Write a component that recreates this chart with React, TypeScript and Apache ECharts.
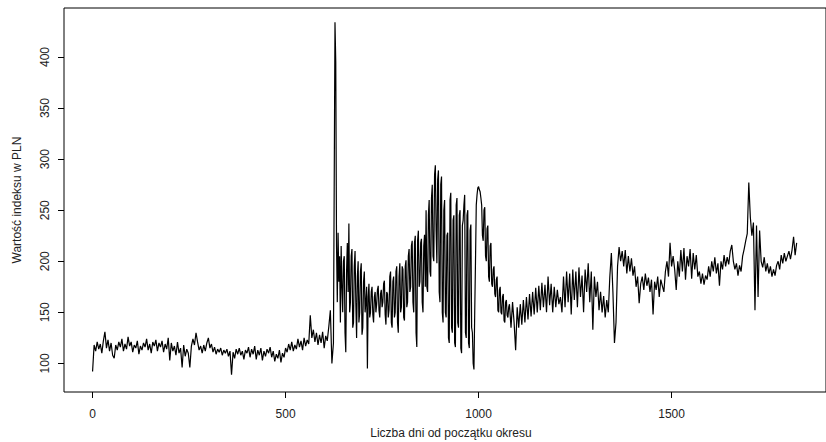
import React, { useEffect, useRef } from "react";
import * as echarts from "echarts";

const startA = 0;
const stepA = 4;
const valuesA = [
  92, 118, 112, 121, 114, 119, 110, 122, 131, 115,
  123, 112, 120, 108, 105, 118, 113, 121, 116, 124,
  112, 119, 114, 126, 117, 121, 111, 118, 115, 122,
  109, 117, 113, 120, 116, 124, 113, 119, 110, 121,
  117, 123, 112, 120, 116, 122, 111, 119, 114, 125,
  103, 120, 112, 117, 108, 121, 110, 115, 96, 118,
  107, 114, 110, 96, 117, 124, 118, 130, 121, 113,
  117, 110, 118, 112, 120, 125, 115, 119, 111, 116,
  109, 114, 111, 115, 108, 113, 110, 114, 107, 112,
  89, 111, 105, 114, 109, 115, 108, 112, 104, 113,
];

const startB = 400;
const stepB = 4;
const valuesB = [
  110, 116, 106, 114, 109, 117, 104, 113, 108, 115,
  103, 112, 107, 114, 110, 116, 106, 112, 102, 109,
  105, 113, 101, 110, 106, 115, 111, 119, 113, 121,
  112, 118, 114, 124, 116, 122, 113, 125, 117, 123,
  119, 147, 125, 133, 121, 130, 118, 128, 120, 131,
  115, 127, 122, 136, 152, 100, 120,
];

const startC = 628;
const stepC = 2;
const valuesC = [
  434, 395, 215, 160, 228, 180, 205, 140, 215, 175,
  150, 200, 205, 130, 111, 190, 218, 170, 237, 150,
  160, 205, 212, 135, 140, 195, 210, 160, 125, 185,
  200, 140, 150, 190, 198, 128, 135, 180, 190, 150,
  160, 175, 95, 165, 178, 145, 150, 170, 175, 148,
  140, 165, 170, 150, 158, 172, 176, 152, 145, 168,
  172, 155, 160, 178, 181, 148, 138, 170, 168, 145,
  152, 185, 190, 140, 135, 180, 185, 145, 150, 190,
  195, 140, 130, 185, 198, 150, 155, 195, 192, 145,
  142, 195, 201, 155, 160, 205, 212, 170, 175, 215,
  220, 160, 150, 218, 225, 130, 116, 220, 230, 175,
  180, 218, 222, 160, 150, 215, 226, 175,
];

const startD = 864;
const stepD = 2;
const valuesD = [
  250, 175, 170, 245, 260, 190, 185, 262, 275, 205,
  200, 285, 294, 230, 198, 280, 289, 170, 160, 275,
  283, 150, 140, 250, 260, 150, 145, 225, 228, 125,
  120, 260, 267, 135, 130, 240, 245, 120, 116, 255,
  262, 140, 135, 245, 250, 115, 110, 235, 240, 255,
  265, 130, 125, 245, 250, 120, 115, 230, 236, 135,
  130, 100, 94, 150, 200, 255, 265, 272, 273, 270,
  268, 262, 255, 225, 220, 250, 253, 205, 200, 232,
  235, 185, 180, 215, 218, 178, 175, 192, 195, 168,
  165, 182, 185, 152, 150, 172, 175, 150, 148, 165,
  168, 142, 140, 160, 162, 147, 145, 155, 158,
];

const startE = 1084;
const stepE = 4;
const valuesE = [
  135, 160, 140, 113, 155, 135, 158, 138, 162, 140,
  165, 143, 168, 146, 170, 148, 174, 150, 176, 152,
  179, 155, 177, 150, 185, 157, 178, 150, 175, 155,
  172, 158, 165, 150, 185, 155, 190, 160, 188, 148,
  192, 162, 190, 155, 194, 165, 186, 150, 192, 170,
  198, 160, 190,
];

const startF = 1296;
const stepF = 4;
const valuesF = [
  133, 185, 165, 180, 152, 170, 150, 166, 145, 162,
  150, 185, 208, 170, 120, 140, 195, 214, 200, 210,
  195, 211, 188, 205, 190, 203, 186, 195, 175, 185,
  159, 178, 185, 172, 188, 176, 184, 170, 182, 148,
  180, 172, 185, 165, 182, 176, 170, 190, 200, 185,
  218, 195,
];

const startG = 1504;
const stepG = 4;
const valuesG = [
  205, 192, 172, 200, 185, 211, 190, 213, 182, 205,
  195, 212, 183, 208, 192, 206, 185, 190, 178, 188,
  177, 186, 182, 195, 185, 200, 190, 204, 188, 198,
  176, 200, 192, 206, 195, 204, 197, 210, 216, 200,
  192, 198, 186, 196, 190, 205, 212, 220, 227, 277,
  243, 225, 238, 152, 235, 165, 230, 200, 194, 204,
  190, 198, 188, 195, 185, 192, 186, 196, 200, 192,
  206, 198, 208, 200, 205, 210, 202, 211, 224, 206,
  218,
];

const segments: [number, number, number[]][] = [
  [startA, stepA, valuesA],
  [startB, stepB, valuesB],
  [startC, stepC, valuesC],
  [startD, stepD, valuesD],
  [startE, stepE, valuesE],
  [startF, stepF, valuesF],
  [startG, stepG, valuesG],
];

const xTickValues = [0, 500, 1000, 1500];
const yTickValues = [100, 150, 200, 250, 300, 350, 400];

const xTitle = "Liczba dni od początku okresu";
const yTitle = "Wartość indeksu w PLN";

const FONT = "'Liberation Sans', Arial, sans-serif";

function buildData(): [number, number][] {
  const out: [number, number][] = [];
  segments.forEach(([start, step, vals]) => {
    vals.forEach((v, i) => out.push([start + i * step, v]));
  });
  return out;
}

export default function App() {
  const ref = useRef<HTMLDivElement>(null);
  useEffect(() => {
    if (!ref.current) return;
    const chart = echarts.init(ref.current, null, { renderer: "svg" });
    chart.setOption({
      animation: false,
      backgroundColor: "#ffffff",
      grid: {
        left: 64,
        top: 8,
        width: 774,
        height: 384,
        show: true,
        borderColor: "#000",
        borderWidth: 1,
        backgroundColor: "transparent",
      },
      xAxis: {
        type: "value",
        min: -74,
        max: 1900,
        axisLine: { show: false, onZero: false },
        splitLine: { show: false },
        axisTick: {
          show: true,
          inside: false,
          length: 6,
          lineStyle: { color: "#000", width: 1 },
          customValues: xTickValues,
        },
        axisLabel: {
          customValues: xTickValues,
          formatter: (v: number) => String(v),
          margin: 16,
          color: "#222",
          fontSize: 12,
          fontFamily: FONT,
        },
      },
      yAxis: {
        type: "value",
        min: 72,
        max: 448,
        axisLine: { show: false, onZero: false },
        splitLine: { show: false },
        axisTick: {
          show: true,
          inside: false,
          length: 6,
          lineStyle: { color: "#000", width: 1 },
          customValues: yTickValues,
        },
        axisLabel: {
          customValues: yTickValues,
          formatter: (v: number) => String(v),
          rotate: 90,
          margin: 13,
          color: "#222",
          fontSize: 12,
          fontFamily: FONT,
        },
      },
      series: [
        {
          type: "line",
          data: buildData(),
          symbol: "none",
          showSymbol: false,
          silent: true,
          lineStyle: { color: "#000", width: 1.2 },
        },
      ],
      graphic: [
        {
          type: "text",
          x: 451,
          y: 433,
          style: {
            text: xTitle,
            fill: "#222",
            font: `12px ${FONT}`,
            align: "center",
            verticalAlign: "middle",
          },
        },
        {
          type: "text",
          x: 17,
          y: 200,
          rotation: Math.PI / 2,
          style: {
            text: yTitle,
            fill: "#222",
            font: `12px ${FONT}`,
            align: "center",
            verticalAlign: "middle",
          },
        },
      ],
    });
    return () => chart.dispose();
  }, []);
  return (
    <div
      ref={ref}
      style={{ position: "absolute", left: 0, top: 0, width: 826, height: 442 }}
    />
  );
}
